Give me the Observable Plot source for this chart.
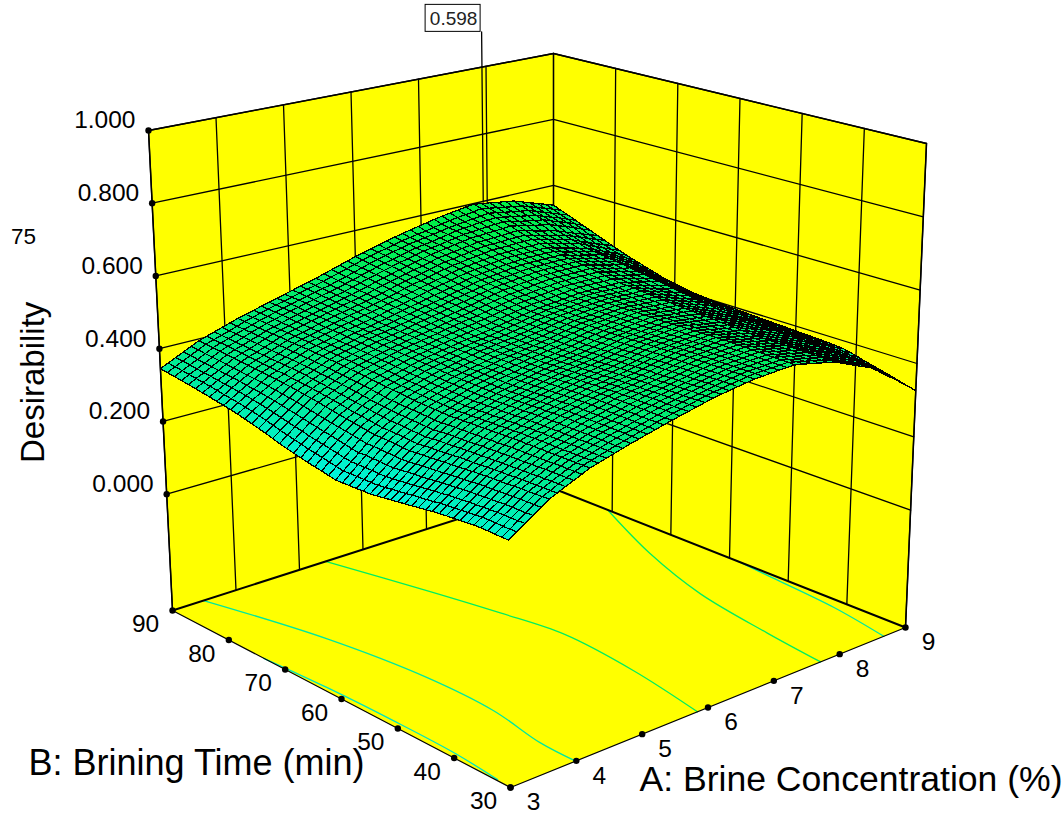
<!DOCTYPE html>
<html><head><meta charset="utf-8">
<script src="https://cdn.jsdelivr.net/npm/d3@7"></script>
<script src="https://cdn.jsdelivr.net/npm/@observablehq/plot@0.6"></script>
<style>html,body{margin:0;padding:0;background:#fff}#c{position:absolute;left:0;top:0}</style>
</head><body><div id="c"></div><script>
const concentration=d3.range(51).map(i=>3+i*.12);
const brineTime=d3.range(51).map(i=>30+i*1.2);
// desirability x 1000, one row per brining time, one column per concentration
const desirabilityRows=[
[277,291,305,318,331,345, 354,363,372,381,390, 396,402,408,414,420, 425,431,436,442,447, 452,457,462,467,472, 476,479,483,486,490, 491,492,494,495,495, 491,486,481,476,470, 460,450,440,430,420, 401,382,364,345,326],
[277,290,304,317,331,344, 353,363,372,381,390, 396,402,408,414,420, 425,431,436,442,447, 452,457,462,467,472, 476,479,483,486,490, 492,493,494,495,496, 491,486,481,476,470, 460,450,441,431,421, 403,385,367,349,331],
[277,290,304,317,331,344, 353,363,372,381,390, 396,402,409,415,421, 426,431,437,442,448, 453,457,462,466,471, 475,479,483,486,490, 492,493,494,495,496, 491,486,481,476,471, 461,451,441,432,422, 405,388,370,353,336],
[278,291,304,317,330,343, 352,362,372,381,390, 396,402,409,415,421, 426,431,437,442,448, 453,457,462,466,471, 475,479,483,486,490, 492,493,495,496,497, 492,487,481,476,471, 461,452,443,433,424, 408,391,375,358,342],
[278,291,304,317,330,343, 352,362,372,381,390, 396,403,409,416,422, 427,432,438,443,449, 453,458,462,466,470, 474,478,482,486,490, 492,493,495,496,497, 492,487,482,477,472, 462,453,444,434,425, 409,394,378,363,347],
[278,291,303,316,329,342, 352,361,371,380,390, 396,403,409,416,422, 427,432,438,443,449, 453,458,462,466,470, 474,478,482,486,490, 492,494,495,497,498, 493,488,482,477,472, 463,454,445,435,426, 411,396,382,367,352],
[276,289,302,315,328,341, 351,361,371,380,390, 396,403,409,416,422, 427,432,438,443,449, 453,458,462,466,470, 474,478,482,486,490, 492,494,495,497,498, 493,488,482,477,472, 463,454,445,436,427, 413,399,385,371,357],
[275,288,301,314,327,340, 350,360,370,380,390, 397,403,410,416,423, 428,433,439,444,450, 454,458,461,465,469, 473,478,482,486,490, 492,494,495,497,499, 494,488,483,477,472, 463,455,446,437,428, 415,402,388,375,362],
[273,286,300,313,327,340, 350,360,370,380,390, 397,403,410,416,423, 428,433,439,444,450, 454,458,461,465,469, 473,478,482,486,490, 492,494,495,497,499, 494,488,483,477,472, 464,455,447,438,430, 418,405,393,380,368],
[272,285,299,312,326,339, 349,359,370,380,390, 397,404,410,417,424, 429,434,440,445,450, 454,458,461,465,468, 472,477,481,486,490, 492,494,496,498,500, 494,489,483,478,472, 464,456,447,439,431, 419,408,396,385,373],
[270,284,297,311,324,338, 348,359,369,380,390, 397,404,410,417,424, 429,434,440,445,450, 454,457,461,464,468, 472,477,481,486,490, 492,494,496,498,500, 494,489,483,478,472, 464,456,448,440,432, 421,410,400,389,378],
[268,282,296,309,323,337, 347,358,369,379,390, 397,404,410,417,424, 429,434,439,444,449, 453,457,460,464,467, 472,476,481,485,490, 492,494,496,498,500, 495,489,484,478,473, 465,457,449,441,433, 423,412,401,391,380],
[265,279,293,307,321,335, 346,357,368,378,389, 396,403,410,417,423, 428,433,439,444,449, 453,456,460,463,467, 471,476,480,485,489, 491,493,495,497,500, 495,490,485,479,474, 466,458,450,442,434, 424,414,403,393,382],
[263,277,292,306,320,334, 346,357,368,378,389, 396,403,410,416,423, 428,433,438,443,448, 452,456,459,462,466, 470,475,480,484,488, 490,493,495,497,499, 495,490,485,480,475, 467,459,451,443,435, 425,415,404,394,383],
[260,275,289,304,318,333, 345,356,367,377,388, 395,402,409,416,422, 427,433,438,443,448, 452,455,459,462,465, 470,474,479,484,488, 490,492,495,497,499, 495,490,486,481,477, 469,461,453,445,437, 426,416,405,395,384],
[258,273,287,302,317,332, 343,355,366,377,388, 395,402,408,415,422, 427,432,437,442,447, 451,455,458,462,465, 469,474,478,483,487, 489,492,494,497,499, 495,491,487,482,478, 470,462,453,445,437, 427,417,406,396,385],
[255,270,285,300,315,330, 342,354,365,376,387, 394,401,408,415,421, 426,431,437,442,447, 451,454,458,461,464, 469,473,478,482,487, 489,491,494,496,499, 495,491,487,483,479, 471,463,454,446,438, 428,418,407,397,386],
[253,268,283,299,314,329, 341,353,365,376,387, 394,401,408,414,421, 426,431,436,441,446, 450,454,457,460,464, 468,473,477,482,486, 488,491,493,496,498, 495,491,488,484,481, 473,465,456,448,439, 429,419,408,398,387],
[250,266,281,297,312,328, 340,352,364,375,386, 393,400,407,414,420, 425,430,436,441,446, 450,453,457,460,463, 468,472,477,481,486, 488,490,493,495,498, 495,491,488,485,482, 473,465,457,449,440, 430,420,409,399,388],
[248,263,279,295,310,326, 339,351,363,375,386, 393,400,407,414,420, 425,430,435,440,445, 449,453,456,460,463, 467,472,476,481,485, 487,490,492,495,498, 495,492,489,486,483, 475,466,458,450,441, 431,421,410,400,389],
[245,261,277,293,309,325, 337,349,361,373,385, 392,399,406,413,420, 425,430,435,440,445, 449,452,456,459,462, 467,471,476,480,485, 487,490,493,495,498, 495,492,490,487,485, 476,467,459,450,441, 431,421,410,400,390],
[245,261,277,293,310,326, 338,350,362,373,386, 393,400,407,414,421, 426,431,436,440,445, 449,452,456,459,463, 467,472,476,481,485, 487,490,493,495,498, 495,493,491,488,486, 478,469,461,452,444, 434,424,413,403,391],
[244,261,278,295,311,328, 340,351,363,375,387, 394,401,408,415,422, 427,431,436,441,445, 449,453,456,460,463, 467,472,476,481,485, 487,490,493,495,498, 496,493,491,489,487, 479,471,463,455,447, 437,426,416,405,392],
[244,261,278,295,312,329, 341,353,364,376,388, 395,402,409,416,423, 428,432,437,441,446, 450,453,457,460,464, 468,473,477,482,486, 488,490,493,495,498, 496,494,492,490,489, 481,473,465,458,450, 439,428,418,407,393],
[243,261,278,296,313,330, 342,354,366,378,389, 396,403,410,416,423, 428,433,437,442,446, 450,453,457,460,464, 468,473,477,482,486, 488,490,493,495,498, 497,495,493,492,490, 483,475,468,460,453, 441,430,420,409,394],
[243,260,278,295,313,330, 342,354,366,378,390, 397,404,410,417,424, 428,433,437,442,446, 450,453,457,460,464, 468,473,477,482,486, 488,490,493,495,498, 497,496,494,493,492, 485,477,470,462,455, 443,431,420,408,395],
[247,264,281,298,316,333, 345,357,368,380,392, 399,406,412,419,425, 429,434,438,443,447, 451,454,458,461,465, 469,473,478,482,486, 488,491,493,496,498, 498,497,496,494,494, 487,479,472,465,459, 446,434,422,410,396],
[251,268,285,302,320,336, 348,359,370,381,394, 401,407,414,420,426, 430,435,439,444,448, 452,455,458,461,465, 469,474,478,483,487, 489,491,494,496,498, 499,498,496,495,496, 489,482,475,468,462, 450,437,425,412,398],
[254,272,289,306,323,339, 351,362,372,383,396, 402,408,415,422,428, 432,436,440,445,449, 453,456,459,462,466, 470,474,479,483,487, 489,492,494,497,499, 499,499,497,496,498, 491,484,477,471,466, 453,441,428,415,399],
[258,276,293,310,326,342, 353,365,375,386,398, 404,410,416,423,429, 433,437,441,445,449, 453,456,459,463,467, 471,475,480,484,488, 490,492,495,497,500, 500,500,499,498,499, 493,486,480,475,469, 456,444,431,417,401],
[262,279,296,313,329,345, 356,367,378,389,400, 406,412,418,424,430, 434,438,442,446,450, 454,457,460,464,468, 472,476,480,484,488, 490,492,495,497,500, 500,500,500,500,500, 495,490,484,479,473, 459,446,433,417,402],
[267,284,300,317,333,349, 360,370,381,391,402, 408,414,420,426,432, 436,440,444,448,452, 456,459,463,466,470, 475,479,483,487,491, 493,495,498,500,503, 504,504,504,503,504, 498,493,487,482,476, 463,450,437,423,406],
[271,288,305,321,337,352, 363,373,384,394,404, 410,416,422,428,433, 437,441,445,450,454, 458,462,465,469,473, 477,482,486,490,494, 496,499,501,504,506, 507,507,507,507,507, 501,496,491,485,480, 467,454,441,426,410],
[276,293,309,325,340,356, 366,376,386,396,406, 412,418,423,429,435, 439,443,447,451,455, 460,464,468,472,475, 480,484,489,493,497, 499,502,505,507,510, 510,511,511,510,511, 505,499,494,488,483, 470,458,445,430,414],
[282,297,313,329,344,359, 369,379,389,398,408, 414,419,425,431,436, 440,444,449,453,457, 461,466,470,474,478, 483,487,492,496,500, 502,505,508,511,514, 514,514,514,514,514, 508,503,497,491,487, 474,462,449,433,418],
[288,303,318,333,348,362, 372,382,391,400,410, 416,421,427,432,438, 442,446,450,454,459, 463,468,472,476,481, 485,490,495,499,504, 506,509,511,514,517, 517,518,518,518,518, 512,506,500,495,490, 477,465,452,437,422],
[293,308,323,337,351,365, 375,384,393,402,412, 417,423,428,434,439, 443,447,451,456,461, 465,470,474,479,484, 488,493,498,502,507, 509,512,515,518,520, 521,521,521,521,521, 515,509,504,498,493, 481,469,457,443,429],
[298,313,327,341,354,368, 377,387,395,404,413, 419,424,430,435,441, 445,449,453,458,462, 467,472,476,481,486, 491,496,500,505,510, 513,515,518,521,523, 524,524,525,525,524, 518,512,507,501,496, 485,474,463,449,435],
[303,317,331,344,357,370, 379,389,397,406,415, 420,425,431,436,442, 446,450,454,459,464, 469,474,479,483,488, 493,498,503,508,513, 516,519,522,525,527, 528,528,528,528,527, 521,515,510,504,499, 488,478,467,455,442],
[308,321,335,348,360,373, 382,391,399,407,416, 422,427,432,438,443, 447,451,456,460,466, 471,476,481,486,491, 496,501,506,511,516, 519,522,525,528,530, 531,532,532,532,531, 524,518,513,507,502, 491,481,471,460,448],
[312,325,338,350,363,375, 383,392,401,409,418, 423,428,434,440,445, 449,453,458,462,468, 473,478,484,489,495, 500,505,510,515,520, 523,526,529,532,535, 535,535,535,535,535, 529,523,517,511,505, 495,485,475,465,455],
[316,328,341,353,365,377, 385,394,402,410,419, 425,430,436,441,447, 451,456,461,465,470, 476,481,487,492,498, 503,508,513,519,524, 527,530,533,536,539, 539,540,540,540,541, 535,529,523,517,512, 502,492,482,472,463],
[319,331,344,356,367,379, 387,395,403,412,420, 426,431,437,442,448, 453,458,463,467,472, 478,483,489,495,501, 506,511,517,522,527, 530,534,537,540,544, 544,545,546,546,547, 541,535,529,523,517, 507,497,488,479,471],
[323,335,346,358,369,381, 389,397,405,413,421, 427,432,438,444,450, 455,460,465,470,474, 480,486,492,498,504, 509,514,520,526,531, 534,538,541,545,549, 549,550,551,552,552, 546,540,534,529,524, 515,506,497,488,480],
[326,338,349,360,371,383, 391,398,406,414,423, 429,434,440,446,451, 457,462,467,472,477, 483,489,495,501,507, 512,518,523,529,535, 538,542,546,549,553, 554,555,556,558,559, 553,547,541,536,530, 521,512,504,495,488],
[330,341,352,363,374,385, 393,400,408,416,424, 430,436,441,447,452, 458,463,468,474,479, 485,491,498,504,510, 516,521,527,532,538, 542,546,550,554,558, 559,561,562,564,566, 561,556,551,547,542, 533,525,516,506,497],
[333,344,354,365,376,387, 395,402,410,417,425, 431,437,443,449,454, 460,465,471,476,481, 488,494,501,507,513, 519,525,530,536,541, 545,549,553,557,562, 564,566,568,570,572, 567,562,558,553,550, 541,533,525,515,505],
[336,347,357,367,378,389, 397,403,411,419,426, 433,439,445,451,456, 462,467,473,478,483, 490,496,503,509,516, 522,527,533,539,544, 548,552,556,561,566, 568,571,574,576,578, 574,569,565,561,557, 548,540,532,523,514],
[339,350,360,370,380,391, 399,405,413,420,427, 434,440,446,452,458, 464,469,475,480,485, 492,498,505,512,519, 525,531,537,542,548, 552,556,560,564,569, 572,575,578,581,584, 580,576,572,568,565, 556,548,540,531,523],
[342,353,363,373,383,393, 400,407,414,421,429, 435,442,448,454,459, 465,471,477,482,488, 495,501,508,515,522, 528,534,539,545,551, 555,559,563,568,573, 577,581,584,587,591, 587,583,579,575,572, 564,556,548,540,531],
[345,355,365,375,385,395, 402,409,416,423,430, 436,442,448,454,460, 466,472,478,484,490, 497,504,511,518,525, 531,537,543,549,555, 560,565,570,575,580, 584,588,591,595,598, 594,591,587,584,580, 572,564,556,548,540]
];
const aTicks=[3,4,5,6,7,8,9];
const bTicks=[30,40,50,60,70,80,90];
const zTicks=[0,.2,.4,.6,.8,1];
const contourLevels=[.29,.38,.47,.47,.38];
const contourA=[[3,3.068,3.094,3.085,3.018],[3.49,3.945,4.15,4.15,4,3.99],[5.41,5.77,5.99,6.14,6.05,5.84],[9,8.44,8.05,7.83,7.71],[9,8.95,8.84,8.67]];
const contourB=[[73.8,63.3,51.8,40.7,32.5],[90,73.3,58,46.3,36.4,30],[90,76.2,66,56.5,43.5,30],[80.8,67.4,54.5,40.5,30],[58.6,52.9,40.4,30]];
const flagA=7.94,flagB=90,flagValue=.598,flagTop=1.105;
const zFloor=-.32,zTop=1;
// view of the box: where its eight corners fall, as [A=3/B=30, A=9/B=30, A=3/B=90, A=9/B=90]
const floorCorners=[[510,787],[905,627],[172,610],[553,488]];
const topCorners=[[506,240],[926,143],[148,130],[553,53]];
function view(A,B,z){
  const u=(A-3)/6,v=(B-30)/60,w=(z-zFloor)/(zTop-zFloor);
  const bil=(c,k)=>(1-u)*(1-v)*c[0][k]+u*(1-v)*c[1][k]+(1-u)*v*c[2][k]+u*v*c[3][k];
  return [bil(floorCorners,0)*(1-w)+bil(topCorners,0)*w, bil(floorCorners,1)*(1-w)+bil(topCorners,1)*w];
}
const pt=(A,B,z,id,extra={})=>{const [x,y]=view(A,B,z);return {x,y,id,...extra}};
const poly=(pts,id)=>pts.map(p=>pt(p[0],p[1],p[2],id));
const A0=3,A1=9,B0=30,B1=90;
const walls=[...poly([[A0,B1,zFloor],[A1,B1,zFloor],[A1,B1,zTop],[A0,B1,zTop]],"l"),...poly([[A1,B1,zFloor],[A1,B0,zFloor],[A1,B0,zTop],[A1,B1,zTop]],"r")];
const floor=poly([[A0,B0,zFloor],[A1,B0,zFloor],[A1,B1,zFloor],[A0,B1,zFloor]],"f");
const grid=[];
aTicks.forEach(a=>grid.push(...poly([[a,B1,zFloor],[a,B1,zTop]],"a"+a)));
bTicks.forEach(b=>grid.push(...poly([[A1,b,zFloor],[A1,b,zTop]],"b"+b)));
zTicks.forEach(z=>grid.push(...poly([[A0,B1,z],[A1,B1,z],[A1,B0,z]],"z"+z)));
const rim=[...poly([[A0,B1,zFloor],[A0,B1,zTop],[A1,B1,zTop],[A1,B0,zTop],[A1,B0,zFloor]],"rim")];
const backEdges=poly([[A0,B1,zFloor],[A1,B1,zFloor],[A1,B0,zFloor]],"back");
const frontEdges=poly([[A0,B1,zFloor],[A0,B0,zFloor],[A1,B0,zFloor]],"front");
const contours=contourA.flatMap((as,k)=>as.map((a,i)=>pt(a,contourB[k][i],zFloor,k,{level:contourLevels[k]})));
const cells=[];
for(let j=brineTime.length-2;j>=0;j--)for(let i=concentration.length-2;i>=0;i--){
  const q=[[i,j],[i+1,j],[i+1,j+1],[i,j+1]];
  const val=d3.mean(q,([a,b])=>desirabilityRows[b][a]/1000);
  q.forEach(([a,b])=>cells.push(pt(concentration[a],brineTime[b],desirabilityRows[b][a]/1000,i+"_"+j,{val})));
}
const flagLine=poly([[flagA,flagB,flagValue],[flagA,flagB,flagTop]],"flag");
const [fx,fy]=view(flagA,flagB,flagTop);
const font="Liberation Sans, Arial, sans-serif";
const zDots=zTicks.map(z=>pt(A0,B1,z,0,{t:z.toFixed(3)}));
const aDots=aTicks.map(a=>pt(a,B0,zFloor,0,{t:String(a)}));
const bDots=bTicks.map(b=>pt(A0,b,zFloor,0,{t:String(b)}));
const aMid=[pt(6,B0,zFloor,0)],bMid=[pt(A0,60,zFloor,0)],zMid=[pt(A0,B1,.5,0)];
const chart=Plot.plot({width:1064,height:816,margin:0,
  x:{domain:[0,1064],range:[0,1064],axis:null},y:{domain:[0,816],range:[0,816],axis:null},
  color:{type:"linear",domain:[.24,.38,.6],range:["#00f5e0","#00ea88","#00f040"]},
  marks:[
    Plot.line(walls,{x:"x",y:"y",z:"id",fill:"#ffff00",stroke:"none",curve:"linear-closed"}),
    Plot.line(grid,{x:"x",y:"y",z:"id",stroke:"#000",strokeWidth:1.3}),
    Plot.line(rim,{x:"x",y:"y",stroke:"#000",strokeWidth:1.5}),
    Plot.line(floor,{x:"x",y:"y",fill:"#ffff00",curve:"linear-closed"}),
    Plot.line(contours,{x:"x",y:"y",z:"id",stroke:d=>d.level<.33?"#00e5c0":d.level<.42?"#00e8a0":"#00ee60",strokeWidth:1.3,curve:"catmull-rom"}),
    Plot.line(backEdges,{x:"x",y:"y",stroke:"#000",strokeWidth:2}),
    Plot.line(frontEdges,{x:"x",y:"y",stroke:"#000",strokeWidth:1.2}),
    Plot.line(flagLine,{x:"x",y:"y",stroke:"#000",strokeWidth:1.3}),
    Plot.line(cells,{x:"x",y:"y",z:"id",fill:"val",stroke:"#000",strokeWidth:1.25,shapeRendering:"crispEdges",curve:"linear-closed"}),
    Plot.dot([...zDots,...aDots,...bDots],{x:"x",y:"y",r:3.2,fill:"#000"}),
    Plot.text(zDots,{x:"x",y:"y",text:"t",dx:-13,dy:-10,textAnchor:"end",fontSize:24.5,fontFamily:font,fill:"#000"}),
    Plot.text(aDots,{x:"x",y:"y",text:"t",dx:23,dy:15,fontSize:24.5,fontFamily:font,fill:"#000"}),
    Plot.text(bDots,{x:"x",y:"y",text:"t",dx:-27,dy:14,fontSize:24.5,fontFamily:font,fill:"#000"}),
    Plot.text(aMid,{x:"x",y:"y",text:()=>"A: Brine Concentration (%)",dx:143,dy:72,fontSize:35.6,fontFamily:font,fill:"#000"}),
    Plot.text(bMid,{x:"x",y:"y",text:()=>"B: Brining Time (min)",dx:-145,dy:64,fontSize:36,fontFamily:font,fill:"#000"}),
    Plot.text(zMid,{x:"x",y:"y",text:()=>"Desirability",dx:-124,dy:70,rotate:-90,fontSize:33,fontFamily:font,fill:"#000"}),
    Plot.text(zMid,{x:"x",y:"y",text:()=>"75",dx:-134,dy:-76,fontSize:22.5,fontFamily:font,fill:"#000"}),
    Plot.rect([{x:fx,y:fy}],{x1:d=>d.x-56,x2:d=>d.x-1,y1:d=>d.y-27,y2:d=>d.y,fill:"#fff",stroke:"#000",strokeWidth:1}),
    Plot.text([{x:fx,y:fy}],{x:"x",y:"y",text:()=>String(flagValue),dx:-28,dy:-13,fontSize:19,fontFamily:font,fill:"#222"})
  ]});
document.getElementById("c").append(chart);
</script></body></html>
